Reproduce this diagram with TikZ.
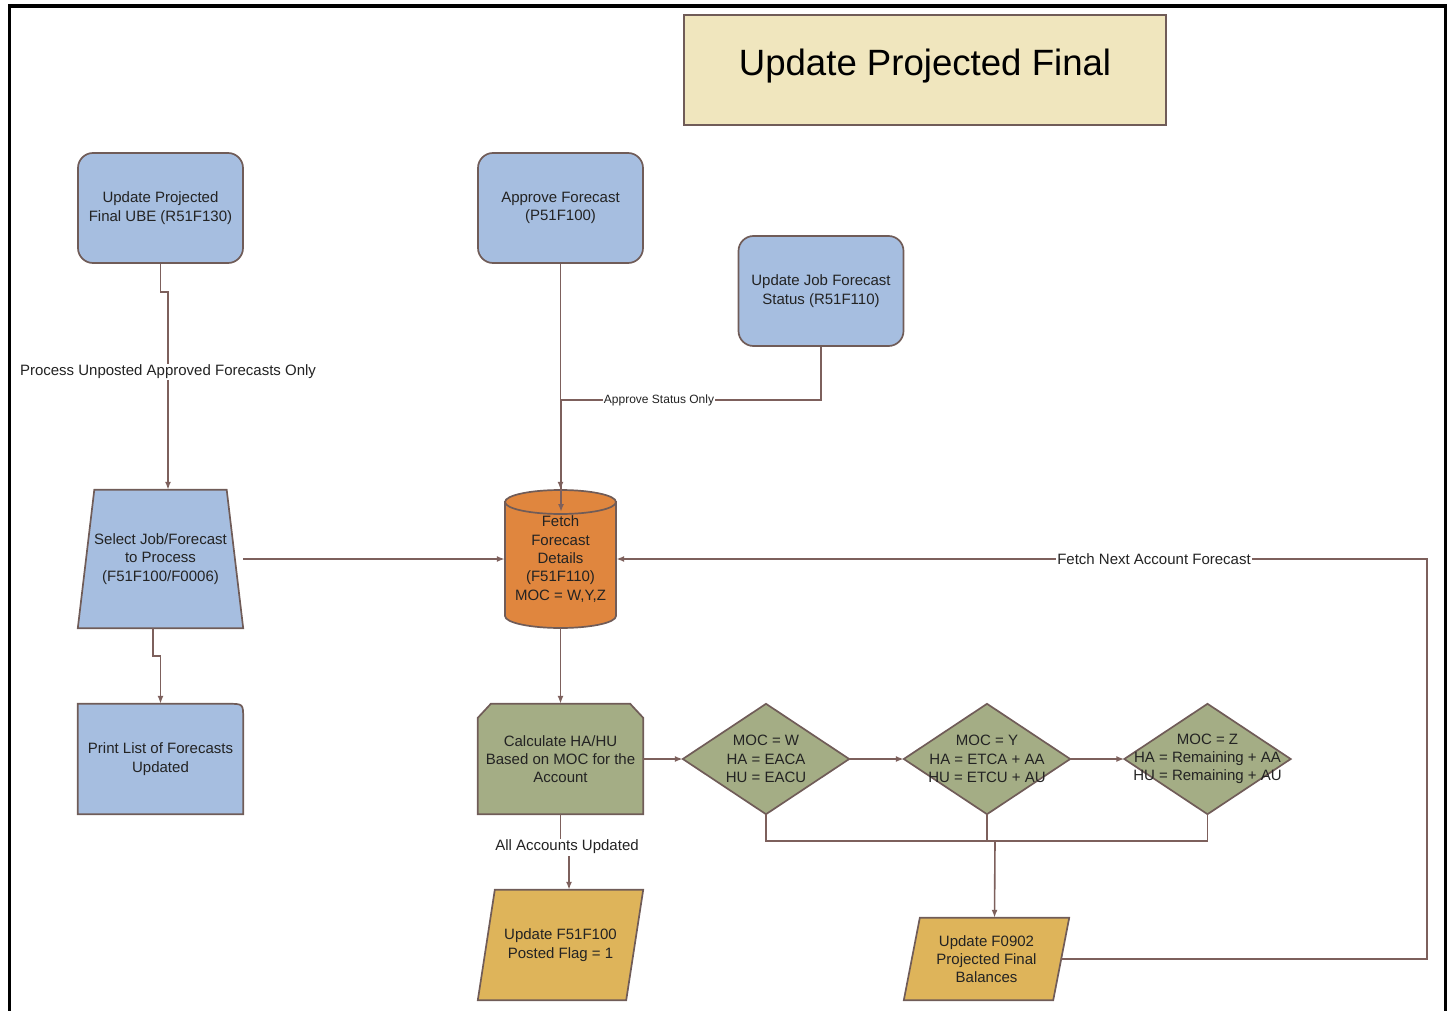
\documentclass[tikz,border=0pt]{standalone}
\usepackage{fontspec}
\setmainfont{Liberation Sans}
\usetikzlibrary{calc,backgrounds,arrows.meta}
\definecolor{blueF}{RGB}{166,190,224}
\definecolor{titleF}{RGB}{240,230,190}
\definecolor{orangeF}{RGB}{224,134,62}
\definecolor{oliveF}{RGB}{164,173,133}
\definecolor{goldF}{RGB}{222,180,90}
\definecolor{bordc}{RGB}{112,92,88}
\definecolor{linec}{RGB}{125,96,92}
\definecolor{txtc}{RGB}{35,35,35}
\begin{document}
\begin{tikzpicture}[x=1pt,y=-1pt,
  txt/.style={inner sep=0pt, align=center, font=\fontsize{15}{18.3}\selectfont, text=txtc},
  box/.style={txt, minimum width=165pt, minimum height=110pt},
  shp/.style={draw=bordc, line width=1.7pt},
  conn/.style={draw=linec, line width=1.6pt, -{Latex[length=8pt,width=6pt]}},
  plain/.style={draw=linec, line width=1.6pt},
  lbl/.style={fill=white, inner sep=1.5pt, font=\fontsize{15}{18}\selectfont, text=txtc},
  slbl/.style={fill=white, inner sep=1pt, font=\fontsize{12}{14}\selectfont, text=txtc}]
\useasboundingbox (0,0) rectangle (1450,1011);
% frame
\draw[black, line width=3.5pt] (9.5,1020) -- (9.5,6) -- (1445.5,6) -- (1445.5,1020);
% title
\node[shp, fill=titleF, minimum width=482pt, minimum height=110pt, inner sep=0pt,
  font=\fontsize{36.6}{40}\selectfont, text=black] (title) at (925,70) {\raisebox{15pt}{Update Projected Final}};
% rounded boxes
\node[box, shp, fill=blueF, rounded corners=15pt] (b1) at (160.5,208) {Update Projected\\Final UBE (R51F130)};
\node[box, shp, fill=blueF, rounded corners=15pt] (b2) at (560.5,208) {Approve Forecast\\(P51F100)};
\node[box, shp, fill=blueF, rounded corners=15pt] (b3) at (821,291) {Update Job Forecast\\Status (R51F110)};
% other nodes (text, shapes drawn on background)
\node[box, minimum height=138pt] (trap) at (160.5,559) {Select Job/Forecast\\to Process\\(F51F100/F0006)};
\node[box] (print) at (160.5,759) {Print List of Forecasts\\Updated};
\node[box, minimum width=111pt, minimum height=138pt] (cyl) at (560.5,559) {Fetch\\Forecast\\Details\\(F51F110)\\MOC = W,Y,Z};
\node[box] (calc) at (560.5,759) {Calculate HA/HU\\Based on MOC for the\\Account};
\node[box, minimum width=166pt] (d1) at (766,759) {MOC = W\\HA = EACA\\HU = EACU};
\node[box, minimum width=166pt] (d2) at (987,759) {MOC = Y\\HA = ETCA + AA\\HU = ETCU + AU};
\node[box, minimum width=166pt] (d3) at (1207.5,759) {MOC = Z\\HA = Remaining + AA\\HU = Remaining + AU};
\node[box] (p1) at (560.5,945) {Update F51F100\\Posted Flag = 1};
\node[box, minimum height=82pt] (p2) at (986.5,959) {Update F0902\\Projected Final\\Balances};
\begin{pgfonlayer}{background}
  \draw[shp, fill=blueF] (trap.south west) -- (trap.south east) -- ($(trap.north east)+(-16.5,0)$) -- ($(trap.north west)+(16.5,0)$) -- cycle;
  \draw[shp, fill=blueF] (print.south west) -- (print.north west) -- ($(print.north east)+(-15,0)$)
     .. controls (print.north east) .. ($(print.north east)+(0,15)$) -- (print.south east) -- cycle;
  \draw[shp, fill=orangeF] (505,502) -- (505,616) arc[start angle=180, end angle=0, x radius=55.5, y radius=12] -- (616,502) -- cycle;
  \draw[shp, fill=orangeF] (560.5,502) ellipse [x radius=55.5, y radius=12];
  \draw[shp, fill=oliveF] (calc.south west) -- ($(calc.north west)+(0,14)$) -- ($(calc.north west)+(13,0)$) -- ($(calc.north east)+(-13,0)$) -- ($(calc.north east)+(0,14)$) -- (calc.south east) -- cycle;
  \foreach \d in {d1,d2,d3}
    \draw[shp, fill=oliveF] (\d.west) -- (\d.north) -- (\d.east) -- (\d.south) -- cycle;
  \draw[shp, fill=goldF] (p1.south west) -- ($(p1.north west)+(17,0)$) -- (p1.north east) -- ($(p1.south east)+(-17,0)$) -- cycle;
  \draw[shp, fill=goldF] (p2.south west) -- ($(p2.north west)+(16,0)$) -- (p2.north east) -- ($(p2.south east)+(-16,0)$) -- cycle;
\end{pgfonlayer}
% connectors
\draw[conn] (b1.south) -- ++(0,28) -| ($(trap.north)+(7.5,0)$);
\node[lbl] (lproc) at (168,372) {Process Unposted Approved Forecasts Only};
\draw[conn] (b2.south) -- (cyl.north);
\coordinate (cyltop) at (561,512);
\draw[conn] (b3.south) |- (cyltop |- 0,400) -- (cyltop);
\node[slbl] (lstat) at (659,400) {Approve Status Only};
\draw[conn] (trap.east) -- (cyl.west);
\draw[conn] ($(trap.south)+(-7.5,0)$) -- ++(0,28) -| (print.north);
\draw[conn] (cyl.south) -- (calc.north);
\draw[conn] (calc.east) -- (d1.west);
\draw[conn] (d1.east) -- (d2.west);
\draw[conn] (d2.east) -- (d3.west);
\draw[plain] (d1.south) -- ++(0,27) -| (d3.south);
\draw[plain] (d2.south) -- ++(0,27);
\coordinate (jn) at (995,841);
\draw[conn] (jn) -- ($(p2.north)+(8,0)$);
\draw[conn] (calc.south) -- ++(0,33) -| ($(p1.north)+(8.5,0)$);
\node[lbl] (lall) at (567,847) {All Accounts Updated};
\coordinate (rr) at (1427,559);
\draw[conn] ($(p2.east)+(-8,0)$) -| (rr) -- (cyl.east);
\node[lbl] (lfetch) at (1154,559) {Fetch Next Account Forecast};
\end{tikzpicture}
\end{document}
